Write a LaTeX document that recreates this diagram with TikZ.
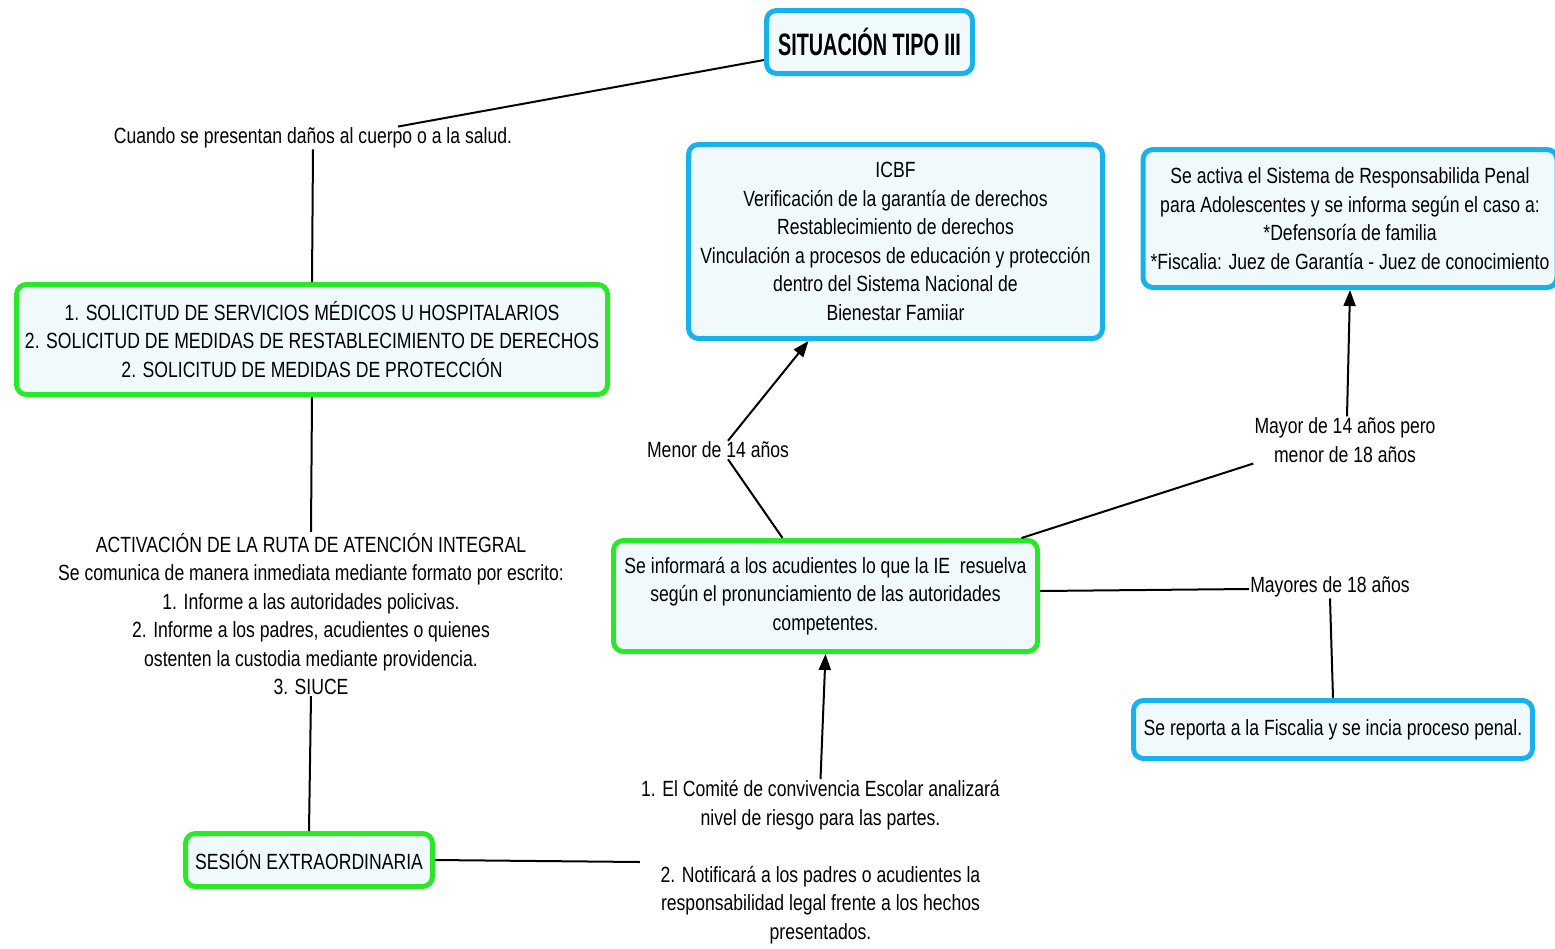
\documentclass[tikz,border=0pt]{standalone}
\usepackage{fontspec}
\setmainfont[FakeStretch=0.8]{Liberation Sans}
\usetikzlibrary{arrows.meta}
\definecolor{cyanb}{RGB}{22,178,240}
\definecolor{greenb}{RGB}{40,232,40}
\definecolor{boxfill}{RGB}{240,250,253}
\tikzset{
  txt/.style={font=\fontsize{22}{28.5}\selectfont, align=center, inner sep=1pt},
  cbox/.style={txt, draw=cyanb, line width=5pt, rounded corners=10pt, fill=boxfill},
  gbox/.style={txt, draw=greenb, line width=5pt, rounded corners=10pt, fill=boxfill},
  conn/.style={line width=2pt, black},
  arr/.style={conn, -{Triangle[length=16pt,width=12pt]}}
}
\begin{document}
\begin{tikzpicture}[x=1pt,y=-1pt]
\useasboundingbox (0,0) rectangle (1555,948);

\node[cbox, minimum width=206pt, minimum height=63pt, font=\fontsize{31}{34}\selectfont\bfseries\addfontfeature{FakeStretch=0.64}] (title) at (869.5,42) {SITUACIÓN TIPO III};

\node[txt] (cuando) at (313,138) {Cuando se presentan daños al cuerpo o a la salud.};

\node[gbox, minimum width=591pt, minimum height=110pt] (sol) at (312,339.5)
  {1. SOLICITUD DE SERVICIOS MÉDICOS U HOSPITALARIOS\\2. SOLICITUD DE MEDIDAS DE RESTABLECIMIENTO DE DERECHOS\\2. SOLICITUD DE MEDIDAS DE PROTECCIÓN};

\node[txt] (act) at (311,614)
  {ACTIVACIÓN DE LA RUTA DE ATENCIÓN INTEGRAL\\Se comunica de manera inmediata mediante formato por escrito:\\1. Informe a las autoridades policivas.\\2. Informe a los padres, acudientes o quienes\\ostenten la custodia mediante providencia.\\3. SIUCE};

\node[gbox, minimum width=247pt, minimum height=53pt] (ses) at (309,860) {SESIÓN EXTRAORDINARIA};

\node[txt] (com) at (820.5,862)
  {1. El Comité de convivencia Escolar analizará\\nivel de riesgo para las partes.\\[28.5pt]2. Notificará a los padres o acudientes la\\responsabilidad legal frente a los hechos\\presentados.};

\node[gbox, minimum width=424pt, minimum height=111pt] (inf) at (825.5,596)
  {Se informará a los acudientes lo que la IE\ \ resuelva\\según el pronunciamiento de las autoridades\\competentes.};

\node[cbox, minimum width=414pt, minimum height=194pt] (icbf) at (895.5,241.5)
  {ICBF\\Verificación de la garantía de derechos\\Restablecimiento de derechos\\Vinculación a procesos de educación y protección\\dentro del Sistema Nacional de\\Bienestar Famiiar};

\node[txt] (menor) at (718,450) {Menor de 14 años};

\node[txt] (mayor) at (1345,440) {Mayor de 14 años pero\\menor de 18 años};

\node[cbox, minimum width=414pt, minimum height=138pt] (srp) at (1350,218.5)
  {Se activa el Sistema de Responsabilida Penal\\para Adolescentes y se informa según el caso a:\\*Defensoría de familia\\*Fiscalia: Juez de Garantía - Juez de conocimiento};

\node[txt] (may18) at (1330,587) {Mayores de 18 años};

\node[cbox, minimum width=399pt, minimum height=58pt] (fis) at (1333,729.5) {Se reporta a la Fiscalia y se incia proceso penal.};

% connectors
\draw[conn] ([yshift=-18pt]title.west) -- ([xshift=85pt]cuando.north);
\draw[conn] (cuando.south) -- (sol.north);
\draw[conn] (sol.south) -- (act.north);
\draw[conn] (act.south) -- (ses.north);
\draw[conn] (ses.east) -- (com.west);
\draw[arr] (com.north) -- (inf.south);
\draw[conn] ([xshift=-43pt]inf.north) -- ([xshift=10pt]menor.south);
\draw[arr] ([xshift=10pt]menor.north) -- ([xshift=-87pt]icbf.south);
\draw[conn] ([xshift=196pt]inf.north) -- (mayor.south west);
\draw[arr] ([xshift=2pt]mayor.north) -- (srp.south);
\draw[conn] ([yshift=5pt]inf.east) -- ([yshift=-2pt]may18.west);
\draw[conn] (may18.south) -- (fis.north);
\end{tikzpicture}
\end{document}
